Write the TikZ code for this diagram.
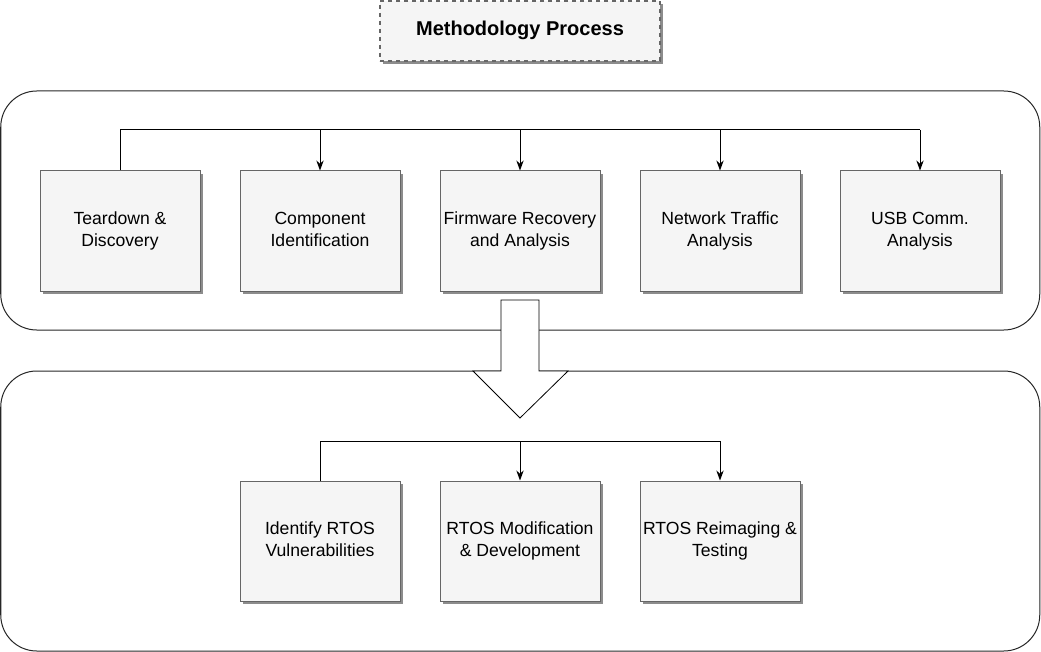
\documentclass[tikz,border=0pt]{standalone}
\usepackage{fontspec}
\setmainfont{Liberation Sans}
\usetikzlibrary{shadows,arrows.meta,calc}
\begin{document}
\begin{tikzpicture}[x=0.75pt,y=-0.75pt,
  stepbox/.style={draw=black!60,fill=black!4,line width=0.75pt,minimum width=120pt,minimum height=90pt,inner sep=0pt,align=center,
    font=\fontsize{13.2}{16.5}\selectfont,
    drop shadow={shadow xshift=2.25pt,shadow yshift=-2.25pt,fill=black!45,opacity=1}},
  container/.style={draw=black!85,line width=0.75pt,rounded corners=27pt,inner sep=0pt},
  titlebox/.style={draw=black!60,fill=black!4,dashed,line width=0.9pt,minimum width=210pt,minimum height=45pt,inner sep=0pt,
    font=\fontsize{15}{18}\selectfont\bfseries,
    drop shadow={shadow xshift=2.25pt,shadow yshift=-2.25pt,fill=black!45,opacity=1}},
  conn/.style={draw=black,line width=0.75pt},
  arr/.style={conn,-{Stealth[length=7.5pt,width=5.5pt]}},
  bigarrow/.style={draw=black,fill=white,line width=0.6pt}]
\useasboundingbox (0,0) rectangle (1041,652);
% title
\node[titlebox] (title) at (520,31) {\strut Methodology Process};
% containers
\node[container,minimum width=779.25pt,minimum height=179.25pt] (c1) at (520.25,210.5) {};
\node[container,minimum width=779.25pt,minimum height=210pt] (c2) at (520.25,511) {};
% top row boxes
\node[stepbox] (b1) at (120,231) {\strut Teardown \&\\Discovery\strut};
\node[stepbox] (b2) at (320,231) {\strut Component\\Identification\strut};
\node[stepbox] (b3) at (520,231) {\strut Firmware Recovery\\and Analysis\strut};
\node[stepbox] (b4) at (720,231) {\strut Network Traffic\\Analysis\strut};
\node[stepbox] (b5) at (920,231) {\strut USB Comm.\\Analysis\strut};
% bottom row boxes
\node[stepbox] (d1) at (320,541) {\strut Identify RTOS\\Vulnerabilities\strut};
\node[stepbox] (d2) at (520,541) {\strut RTOS Modification\\\& Development\strut};
\node[stepbox] (d3) at (720,541) {\strut RTOS Reimaging \&\\Testing\strut};
% top connectors
\coordinate (t) at (120,130);
\draw[conn] (b1.north) -- (b1.north |- t) -- (b5.north |- t);
\draw[arr] (b2.north |- t) -- (b2.north);
\draw[arr] (b3.north |- t) -- (b3.north);
\draw[arr] (b4.north |- t) -- (b4.north);
\draw[arr] (b5.north |- t) -- (b5.north);
% bottom connectors
\coordinate (u) at (320,441);
\draw[conn] (d1.north) -- (d1.north |- u) -- (d3.north |- u);
\draw[arr] (d2.north |- u) -- (d2.north);
\draw[arr] (d3.north |- u) -- (d3.north);
% big arrow
\draw[bigarrow] (501,300) -- (539,300) -- (539,371) -- (568,371) -- (520,418) -- (473,371) -- (501,371) -- cycle;
\end{tikzpicture}
\end{document}
